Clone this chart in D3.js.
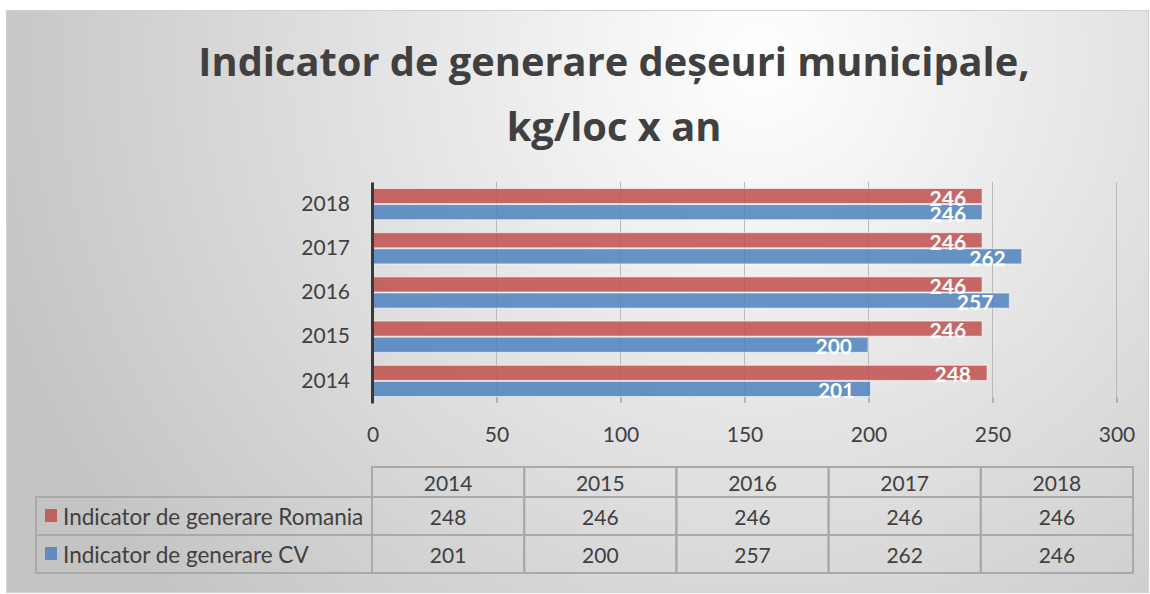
<!DOCTYPE html>
<html>
<head>
<meta charset="utf-8">
<script src="https://cdn.jsdelivr.net/npm/d3@7"></script>
<style>
  html, body { margin: 0; padding: 0; background: #fff; }
  svg { display: block; font-family: Lato, "Open Sans", sans-serif; }
</style>
</head>
<body>
<svg id="chart" width="1150" height="594"></svg>
<script>
// chart data
const years = ['2014', '2015', '2016', '2017', '2018'];
const seriesNames = ['Indicator de generare Romania', 'Indicator de generare CV'];
const romania = [248, 246, 246, 246, 246];
const cv = [201, 200, 257, 262, 246];
const xTicks = [0, 50, 100, 150, 200, 250, 300];
const seriesColors = ['#c0504d', '#4f81bd'];

const titleLines = ['Indicator de generare deșeuri municipale,', 'kg/loc x an'];

const svg = d3.select('#chart');
const textColor = '#404040';

// background with soft gradient
const defs = svg.append('defs');
const grad = defs.append('radialGradient')
  .attr('id', 'bg')
  .attr('gradientUnits', 'userSpaceOnUse')
  .attr('cx', 760).attr('cy', 60).attr('r', 800);
grad.append('stop').attr('offset', '0').attr('stop-color', '#ffffff');
grad.append('stop').attr('offset', '1').attr('stop-color', '#c4c4c4');

svg.append('rect')
  .attr('x', 6.5).attr('y', 10.5)
  .attr('width', 1150 - 8).attr('height', 594 - 12)
  .attr('fill', 'url(#bg)')
  .attr('stroke', '#d0d0d0');

// title
svg.append('g').selectAll('text')
  .data(titleLines)
  .join('text')
  .attr('x', 614)
  .attr('y', (d, i) => 76 + i * 65)
  .attr('text-anchor', 'middle')
  .attr('font-family', '"Open Sans", sans-serif')
  .attr('font-size', 39.8)
  .attr('font-weight', 700)
  .attr('fill', textColor)
  .text(d => d);

// scales
const plotLeft = 372, plotRight = 1116, plotTop = 182, plotBottom = 403;

const x = d3.scaleLinear()
  .domain([0, 300])
  .range([plotLeft, plotRight]);

const y = d3.scaleBand()
  .domain(years.slice().reverse())
  .range([plotTop, plotBottom])
  .paddingInner(0.27)
  .paddingOuter(0.135);

const ySub = d3.scaleBand()
  .domain([0, 1])
  .range([0, y.bandwidth()]);

// gridlines
svg.append('g').selectAll('line')
  .data(xTicks.slice(1))
  .join('line')
  .attr('x1', d => x(d) + 0.5).attr('x2', d => x(d) + 0.5)
  .attr('y1', plotTop).attr('y2', plotBottom - 6)
  .attr('stroke', '#b9b9b9')
  .attr('stroke-width', 1);

// x axis (no domain line, ticks down to bottom)
const xAxis = svg.append('g')
  .attr('transform', `translate(0.5, ${plotBottom - 6})`)
  .call(d3.axisBottom(x).tickValues(xTicks).tickSize(6).tickPadding(24));
xAxis.select('.domain').remove();
xAxis.selectAll('line').attr('stroke', '#8a8a8a');
xAxis.selectAll('text')
  .attr('font-family', 'Lato, sans-serif')
  .attr('font-size', 21)
  .attr('fill', textColor);

// bars
const rows = years.map((yr, i) => ({ year: yr, values: [romania[i], cv[i]] }));

const groups = svg.append('g').selectAll('g')
  .data(rows)
  .join('g')
  .attr('transform', d => `translate(0, ${y(d.year)})`);

groups.selectAll('rect')
  .data(d => d.values.map((v, s) => ({ v, s })))
  .join('rect')
  .attr('x', x(0))
  .attr('y', d => ySub(d.s) + 0.5)
  .attr('width', d => x(d.v) - x(0))
  .attr('height', ySub.bandwidth() - 1)
  .attr('fill', d => seriesColors[d.s])
  .attr('fill-opacity', 0.85)
  .attr('stroke', 'rgba(255,255,255,0.6)')
  .attr('stroke-width', 1);

groups.selectAll('text')
  .data(d => d.values.map((v, s) => ({ v, s })))
  .join('text')
  .attr('x', d => x(d.v) - 16)
  .attr('y', d => ySub(d.s) + ySub.bandwidth() / 2 + 1)
  .attr('text-anchor', 'end')
  .attr('dominant-baseline', 'central')
  .attr('font-size', 21)
  .attr('font-weight', 700)
  .attr('fill', '#ffffff')
  .text(d => d.v);

// y axis
const yAxis = svg.append('g')
  .attr('transform', `translate(${plotLeft}, 0)`)
  .call(d3.axisLeft(y).tickSize(0).tickPadding(22));
yAxis.select('.domain')
  .attr('stroke', '#3a3a3a')
  .attr('stroke-width', 3);
yAxis.selectAll('text')
  .attr('font-family', 'Lato, sans-serif')
  .attr('font-size', 21)
  .attr('fill', textColor);

// data table
const col = d3.scaleBand()
  .domain(years)
  .range([372, 1133]);
const tableLeft = 36;
const rowEdges = [467, 497, 535, 573];
const tableColor = '#a9a9a9';
const table = svg.append('g');

// header cells
table.selectAll('rect.head')
  .data(years)
  .join('rect')
  .attr('class', 'head')
  .attr('x', d => col(d)).attr('y', rowEdges[0])
  .attr('width', col.bandwidth()).attr('height', rowEdges[1] - rowEdges[0])
  .attr('fill', 'none').attr('stroke', tableColor).attr('stroke-width', 2);

table.selectAll('text.head')
  .data(years)
  .join('text')
  .attr('class', 'head')
  .attr('x', d => col(d) + col.bandwidth() / 2)
  .attr('y', (rowEdges[0] + rowEdges[1]) / 2)
  .attr('text-anchor', 'middle')
  .attr('dominant-baseline', 'central')
  .attr('font-size', 21)
  .attr('fill', textColor)
  .text(d => d);

const seriesRows = [romania, cv];
seriesRows.forEach((vals, s) => {
  const top = rowEdges[s + 1], bottom = rowEdges[s + 2];
  const mid = (top + bottom) / 2;

  // legend cell
  table.append('rect')
    .attr('x', tableLeft).attr('y', top)
    .attr('width', 372 - tableLeft).attr('height', bottom - top)
    .attr('fill', 'none').attr('stroke', tableColor).attr('stroke-width', 2);
  table.append('rect')
    .attr('x', 45).attr('y', mid - 7)
    .attr('width', 12).attr('height', 13)
    .attr('fill', seriesColors[s]).attr('fill-opacity', 0.85);
  table.append('text')
    .attr('x', 63).attr('y', mid)
    .attr('dominant-baseline', 'central')
    .attr('font-size', 22.5)
    .attr('fill', textColor)
    .text(seriesNames[s]);

  // value cells
  table.selectAll(`rect.v${s}`)
    .data(years)
    .join('rect')
    .attr('class', `v${s}`)
    .attr('x', d => col(d)).attr('y', top)
    .attr('width', col.bandwidth()).attr('height', bottom - top)
    .attr('fill', 'none').attr('stroke', tableColor).attr('stroke-width', 2);

  table.selectAll(`text.v${s}`)
    .data(vals)
    .join('text')
    .attr('class', `v${s}`)
    .attr('x', (d, i) => col(years[i]) + col.bandwidth() / 2)
    .attr('y', mid)
    .attr('text-anchor', 'middle')
    .attr('dominant-baseline', 'central')
    .attr('font-size', 21)
    .attr('fill', textColor)
    .text(d => d);
});
</script>
</body>
</html>
